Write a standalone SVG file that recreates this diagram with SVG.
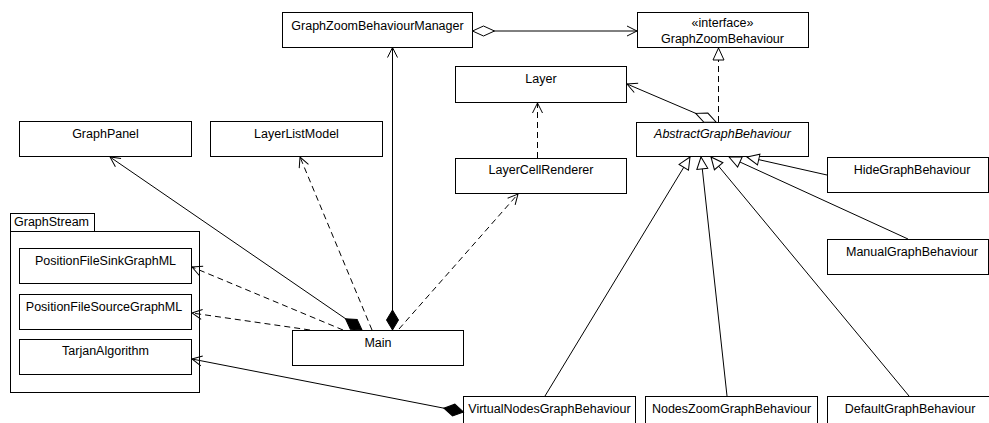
<svg xmlns="http://www.w3.org/2000/svg" width="989" height="423" viewBox="0 0 989 423">
<style>
  .box { fill: #fff; stroke: #000; stroke-width: 1; }
  .t { font-family: "Liberation Sans", Arial, sans-serif; font-size: 12.5px; fill: #000; text-anchor: middle; }
  .ts { font-family: "Liberation Sans", Arial, sans-serif; font-size: 12.5px; fill: #000; }
  .i { font-style: italic; }
  .c { fill: none; stroke: #000; stroke-width: 1; }
  .d { stroke-dasharray: 6 4; }
</style>
<defs>
  <marker id="open" viewBox="-12 -7 14 14" refX="0" refY="0" markerWidth="14" markerHeight="14" orient="auto" markerUnits="userSpaceOnUse">
    <path d="M-10,-5 L0,0 L-10,5" fill="none" stroke="#000" stroke-width="1" stroke-dasharray="none"/>
  </marker>
  <marker id="tri" viewBox="-14 -8 16 16" refX="0" refY="0" markerWidth="16" markerHeight="16" orient="auto" markerUnits="userSpaceOnUse">
    <path d="M0,0 L-12,-5.5 L-12,5.5 Z" fill="#fff" stroke="#000" stroke-width="1" stroke-dasharray="none"/>
  </marker>
  <marker id="fdia" viewBox="-2 -8 24 16" refX="0" refY="0" markerWidth="24" markerHeight="16" orient="auto" markerUnits="userSpaceOnUse">
    <path d="M0,0 L10,-6 L20,0 L10,6 Z" fill="#000" stroke="#000" stroke-width="1" stroke-dasharray="none"/>
  </marker>
  <marker id="hdia" viewBox="-2 -8 26 16" refX="0" refY="0" markerWidth="26" markerHeight="16" orient="auto" markerUnits="userSpaceOnUse">
    <path d="M0,0 L11,-5 L22,0 L11,5 Z" fill="#fff" stroke="#000" stroke-width="1" stroke-dasharray="none"/>
  </marker>
</defs>
<rect width="989" height="423" fill="#fff"/>

<g id="pkg-GraphStream">
  <rect class="box" x="10.5" y="213.5" width="84" height="18"/>
  <rect class="box" x="10.5" y="231.5" width="189" height="161"/>
  <text class="ts" x="14" y="226">GraphStream</text>
</g>

<g id="GraphZoomBehaviourManager">
  <rect class="box" x="282.5" y="12.5" width="190" height="35"/>
  <text class="t" x="377.5" y="29.5">GraphZoomBehaviourManager</text>
</g>
<g id="GraphZoomBehaviour">
  <rect class="box" x="637.5" y="12.5" width="171" height="35"/>
  <text class="t" x="722.5" y="27">«interface»</text>
  <text class="t" x="722.5" y="42.5">GraphZoomBehaviour</text>
</g>
<g id="Layer">
  <rect class="box" x="455.5" y="66.5" width="171" height="36"/>
  <text class="t" x="541" y="83">Layer</text>
</g>
<g id="AbstractGraphBehaviour">
  <rect class="box" x="636.5" y="122.5" width="172" height="34"/>
  <text class="t i" x="722.5" y="137.5">AbstractGraphBehaviour</text>
</g>
<g id="GraphPanel">
  <rect class="box" x="19.5" y="121.5" width="172" height="35"/>
  <text class="t" x="105.5" y="138">GraphPanel</text>
</g>
<g id="LayerListModel">
  <rect class="box" x="210.5" y="121.5" width="172" height="35"/>
  <text class="t" x="296.5" y="138">LayerListModel</text>
</g>
<g id="LayerCellRenderer">
  <rect class="box" x="455.5" y="158.5" width="171" height="35"/>
  <text class="t" x="541" y="174">LayerCellRenderer</text>
</g>
<g id="HideGraphBehaviour">
  <rect class="box" x="827.5" y="157.5" width="161" height="35"/>
  <text class="t" x="912" y="174">HideGraphBehaviour</text>
</g>
<g id="ManualGraphBehaviour">
  <rect class="box" x="827.5" y="239.5" width="161" height="35"/>
  <text class="t" x="912" y="256">ManualGraphBehaviour</text>
</g>
<g id="PositionFileSinkGraphML">
  <rect class="box" x="19.5" y="248.5" width="172" height="35"/>
  <text class="t" x="105.5" y="265">PositionFileSinkGraphML</text>
</g>
<g id="PositionFileSourceGraphML">
  <rect class="box" x="19.5" y="294.5" width="172" height="35"/>
  <text class="t" x="104" y="311">PositionFileSourceGraphML</text>
</g>
<g id="TarjanAlgorithm">
  <rect class="box" x="19.5" y="339.5" width="172" height="35"/>
  <text class="t" x="105.5" y="355">TarjanAlgorithm</text>
</g>
<g id="Main">
  <rect class="box" x="292.5" y="330.5" width="171" height="35"/>
  <text class="t" x="378" y="346.5">Main</text>
</g>
<g id="VirtualNodesGraphBehaviour">
  <rect class="box" x="463.5" y="396.5" width="172" height="36"/>
  <text class="t" x="549.5" y="413">VirtualNodesGraphBehaviour</text>
</g>
<g id="NodesZoomGraphBehaviour">
  <rect class="box" x="645.5" y="396.5" width="172" height="36"/>
  <text class="t" x="731.5" y="413">NodesZoomGraphBehaviour</text>
</g>
<g id="DefaultGraphBehaviour">
  <rect class="box" x="827.5" y="396.5" width="172" height="36"/>
  <text class="t" x="910" y="413">DefaultGraphBehaviour</text>
</g>

<g id="connectors">
  <path class="c" d="M472.5,31 L637,31" marker-start="url(#hdia)" marker-end="url(#open)"/>
  <path class="c" d="M392.5,330 L392.5,47.5" marker-start="url(#fdia)" marker-end="url(#open)"/>
  <path class="c" d="M362,330 L110,157" marker-start="url(#fdia)" marker-end="url(#open)"/>
  <path class="c d" d="M343,330 L192,267" marker-end="url(#open)"/>
  <path class="c d" d="M310,330 L192,313" marker-end="url(#open)"/>
  <path class="c d" d="M372,330 L300,157" marker-end="url(#open)"/>
  <path class="c d" d="M399,329 L518,194" marker-end="url(#open)"/>
  <path class="c" d="M463.5,412 L192,359" marker-start="url(#fdia)" marker-end="url(#open)"/>
  <path class="c d" d="M537.5,158 L537.5,103" marker-end="url(#open)"/>
  <path class="c" d="M716,122 L627,84" marker-start="url(#hdia)" marker-end="url(#open)"/>
  <path class="c d" d="M718.5,122 L718.5,48" marker-end="url(#tri)"/>
  <path class="c" d="M545,396 L690,157" marker-end="url(#tri)"/>
  <path class="c" d="M727,396 L701,157" marker-end="url(#tri)"/>
  <path class="c" d="M909,396 L711,157" marker-end="url(#tri)"/>
  <path class="c" d="M908,239 L729,157" marker-end="url(#tri)"/>
  <path class="c" d="M827,175 L747,157" marker-end="url(#tri)"/>
</g>
</svg>
